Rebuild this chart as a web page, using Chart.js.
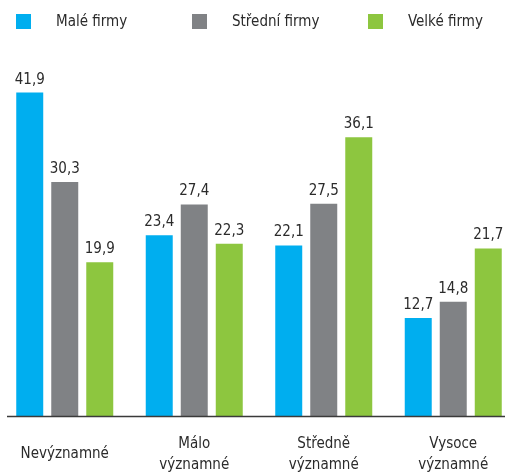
<!DOCTYPE html>
<html>
<head>
<meta charset="utf-8">
<script src="https://cdn.jsdelivr.net/npm/chart.js@4"></script>
<style>
  html, body { margin: 0; padding: 0; background: #fff; }
  #wrap { position: relative; width: 505px; height: 473px; overflow: hidden; }
  #legend { position: absolute; left: 0; top: 0; width: 505px; height: 40px; }
  .item { position: absolute; top: 14px; height: 15px; font: 15px "DejaVu Sans Condensed", sans-serif; color: #2b2b2b; }
  .item i { position: absolute; left: 0; top: 0; width: 15px; height: 15px; }
  .item span { position: absolute; left: 40px; top: -2px; white-space: nowrap; line-height: 19px; }
</style>
</head>
<body>
<div id="wrap">
  <canvas id="chart" width="505" height="473"></canvas>
  <div id="legend"></div>
</div>
<script>
const categories = ["Nevýznamné", ["Málo", "významné"], ["Středně", "významné"], ["Vysoce", "významné"]];
const seriesNames = ["Malé firmy", "Střední firmy", "Velké firmy"];
const maleFirmy = [41.9, 23.4, 22.1, 12.7];
const stredniFirmy = [30.3, 27.4, 27.5, 14.8];
const velkeFirmy = [19.9, 22.3, 36.1, 21.7];
const colors = ["#00aeef", "#808285", "#8dc63f"];

const fontFamily = '"DejaVu Sans Condensed", sans-serif';

// the plot runs a bit past the right edge of the canvas in the original
const widenArea = {
  id: "widenArea",
  afterLayout(chart) {
    const x = chart.scales.x;
    x.right = x.left + 518;
    x.width = 518;
    x.configure();
    chart.chartArea.right = x.right;
    chart.chartArea.width = x.right - chart.chartArea.left;
  }
};

// value labels above each bar + the base line
const valueLabels = {
  id: "valueLabels",
  afterDatasetsDraw(chart) {
    const ctx = chart.ctx;
    ctx.save();
    ctx.font = "15px " + fontFamily;
    ctx.fillStyle = "#2b2b2b";
    ctx.textAlign = "center";
    ctx.textBaseline = "alphabetic";
    chart.data.datasets.forEach((ds, i) => {
      chart.getDatasetMeta(i).data.forEach((bar, j) => {
        ctx.fillText(ds.data[j].toFixed(1).replace(".", ","), bar.x, bar.y - 9);
      });
    });
    const y0 = Math.round(chart.scales.y.getPixelForValue(0)) + 0.5;
    ctx.strokeStyle = "#3a3a3a";
    ctx.lineWidth = 1.5;
    ctx.beginPath();
    ctx.moveTo(7, y0);
    ctx.lineTo(chart.width, y0);
    ctx.stroke();
    ctx.restore();
  }
};

const chart = new Chart(document.getElementById("chart"), {
  type: "bar",
  data: {
    labels: categories,
    datasets: [
      { label: seriesNames[0], data: maleFirmy, backgroundColor: colors[0], clip: false },
      { label: seriesNames[1], data: stredniFirmy, backgroundColor: colors[1], clip: false },
      { label: seriesNames[2], data: velkeFirmy, backgroundColor: colors[2], clip: false }
    ]
  },
  options: {
    responsive: false,
    animation: false,
    layout: { padding: { top: 30, left: 0, right: 0, bottom: 0 } },
    categoryPercentage: 0.811,
    barPercentage: 0.771,
    plugins: {
      legend: { display: false },
      tooltip: { enabled: false }
    },
    scales: {
      x: {
        grid: { display: false, drawTicks: false },
        border: { display: false },
        ticks: {
          color: "#2b2b2b",
          font: { family: fontFamily, size: 15, lineHeight: 1.4 },
          padding: 28,
          maxRotation: 0,
          autoSkip: false,
          crossAlign: "center"
        },
        afterFit(scale) {
          scale.height = 57;
          scale.paddingLeft = 0;
          scale.paddingRight = 0;
        }
      },
      y: {
        display: false,
        min: 0,
        max: 50
      }
    }
  },
  plugins: [widenArea, valueLabels]
});

// legend
const legend = document.getElementById("legend");
const legendX = [16, 192, 368];
seriesNames.forEach((name, i) => {
  const el = document.createElement("div");
  el.className = "item";
  el.style.left = legendX[i] + "px";
  el.innerHTML = '<i style="background:' + colors[i] + '"></i><span>' + name + "</span>";
  legend.appendChild(el);
});
</script>
</body>
</html>
